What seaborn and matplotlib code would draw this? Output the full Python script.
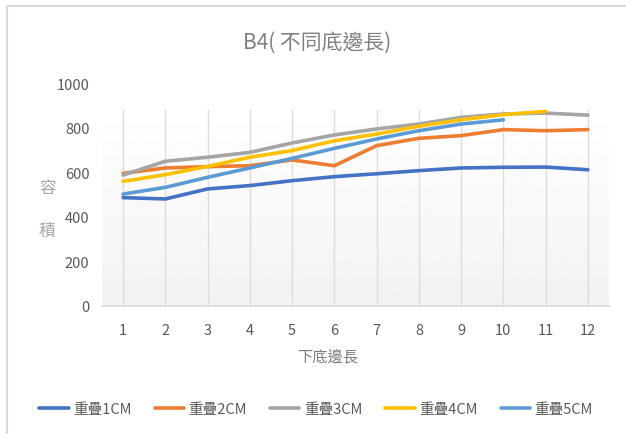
import numpy as np
import pandas as pd
import matplotlib
matplotlib.use("Agg")
import matplotlib.pyplot as plt
from matplotlib.patches import Rectangle
import seaborn as sns

# chart values
x_vals = [1, 2, 3, 4, 5, 6, 7, 8, 9, 10, 11, 12]
s1 = [486, 480, 525, 540, 562, 580, 593, 607, 619, 622, 623, 611]
s2 = [595, 619, 625, 629, 655, 629, 719, 752, 764, 791, 786, 791]
s3 = [587, 649, 667, 689, 731, 767, 794, 816, 846, 861, 865, 856]
s4 = [559, 589, 626, 667, 697, 741, 771, 806, 835, 858, 873]
s5 = [502, 532, 577, 619, 662, 707, 749, 786, 816, 835]
series_names = ["重疊1CM", "重疊2CM", "重疊3CM", "重疊4CM", "重疊5CM"]
y_ticks = [0, 200, 400, 600, 800, 1000]
colors = ["#4472C4", "#ED7D31", "#A5A5A5", "#FFC000", "#5B9BD5"]

rows = []
for name, vals in zip(series_names, [s1, s2, s3, s4, s5]):
    for x, v in zip(x_vals, vals):
        rows.append({"x": x, "v": v, "series": name})
df = pd.DataFrame(rows)

sns.set_style("white")
plt.rcParams["font.family"] = ["Noto Sans CJK TC", "DejaVu Sans"]

fig = plt.figure(figsize=(6.26, 4.35), dpi=100)
ax = fig.add_axes([102 / 626, 1 - 307 / 435, 507 / 626, 223 / 435])

# gradient plot area background
grad = np.linspace(0.95, 1.0, 256).reshape(-1, 1)
ax.imshow(grad, cmap="gray", vmin=0, vmax=1, aspect="auto",
          extent=[0, 1, 0, 0.883], transform=ax.transAxes, zorder=0,
          origin="lower")

ax.vlines(x_vals, 0, 883, color="#DDDDDD", lw=1, zorder=1)

sns.lineplot(data=df, x="x", y="v", hue="series", palette=colors,
             linewidth=2.6, ax=ax, legend=False, zorder=3)

ax.set_xlim(0.5, 12.5)
ax.set_ylim(0, 1000)
ax.set_xticks(x_vals)
ax.set_yticks(y_ticks)
ax.tick_params(axis="both", length=0, labelsize=10.5, labelcolor="#595959")
ax.tick_params(axis="y", pad=9)
ax.tick_params(axis="x", pad=12)
for side in ["top", "left", "right"]:
    ax.spines[side].set_visible(False)
ax.spines["bottom"].set_color("#D9D9D9")
ax.spines["bottom"].set_linewidth(1.2)

ax.set_xlabel("下底邊長", fontsize=11, color="#808080", va="center")
ax.xaxis.set_label_coords(0.446, -0.229)
ax.set_ylabel("容\n積", rotation=0, fontsize=12, color="#A6A6A6",
              linespacing=3.0, va="center", ha="center")
ax.yaxis.set_label_coords(-0.108, 0.435)

fig.text(0.507, 1 - 43 / 435, "B4( 不同底邊長)", fontsize=15,
         color="#808080", ha="center", va="center")

handles = [plt.Line2D([], [], color=c, lw=2.6) for c in colors]
fig.legend(handles, series_names, loc="center", ncol=5,
           bbox_to_anchor=(0.505, 1 - 410 / 435), frameon=False,
           fontsize=10.5, labelcolor="#595959", handlelength=2.0,
           handletextpad=0.3, columnspacing=1.6)

# chart border
fig.patches.append(Rectangle((7 / 626, -0.01), 1.05, 1 - 7 / 435 + 0.01,
                             transform=fig.transFigure, fill=False,
                             edgecolor="#D9D9D9", lw=1.5))

fig.savefig("out.png", dpi=100)
